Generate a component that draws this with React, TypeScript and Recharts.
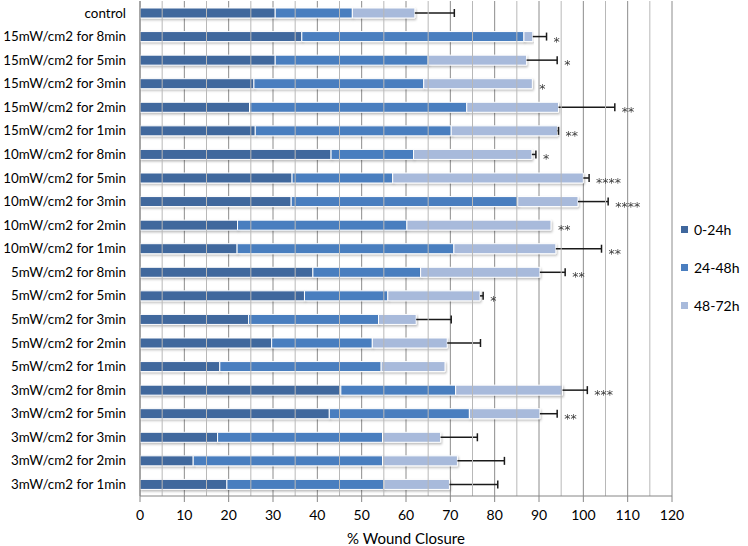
import React from 'react';
import { BarChart, Bar, XAxis, YAxis, CartesianGrid, ReferenceLine, Legend, LabelList } from 'recharts';

const categories = [
  'control',
  '15mW/cm2 for 8min',
  '15mW/cm2 for 5min',
  '15mW/cm2 for 3min',
  '15mW/cm2 for 2min',
  '15mW/cm2 for 1min',
  '10mW/cm2 for 8min',
  '10mW/cm2 for 5min',
  '10mW/cm2 for 3min',
  '10mW/cm2 for 2min',
  '10mW/cm2 for 1min',
  '5mW/cm2 for 8min',
  '5mW/cm2 for 5min',
  '5mW/cm2 for 3min',
  '5mW/cm2 for 2min',
  '5mW/cm2 for 1min',
  '3mW/cm2 for 8min',
  '3mW/cm2 for 5min',
  '3mW/cm2 for 3min',
  '3mW/cm2 for 2min',
  '3mW/cm2 for 1min',
];

const h0to24 = [30.5, 36.5, 30.5, 25.7, 24.7, 26.0, 43.1, 34.3, 34.1, 22.0, 21.9, 39.0, 37.1, 24.5, 29.7, 18.0, 45.3, 42.7, 17.5, 12.0, 19.6];
const h24to48 = [17.4, 50.1, 34.5, 38.3, 49.0, 44.2, 18.6, 22.7, 51.1, 38.2, 48.9, 24.3, 18.8, 29.3, 22.7, 36.4, 25.9, 31.6, 37.2, 42.7, 35.4];
const h48to72 = [14.1, 2.0, 22.2, 24.5, 20.7, 24.0, 26.7, 43.0, 13.6, 32.5, 23.0, 26.9, 20.8, 8.5, 16.9, 14.4, 24.1, 15.9, 13.1, 16.9, 14.8];
const errPlus = [8.9, 3.1, 6.9, 0, 12.7, 0.2, 0.9, 1.3, 6.8, 0, 10.3, 5.7, 0.7, 7.9, 7.5, 0, 5.6, 3.9, 8.3, 10.6, 10.9];
const significance = ['', '*', '*', '*', '**', '**', '*', '****', '****', '**', '**', '**', '*', '', '', '', '***', '**', '', '', ''];

const seriesNames = ['0-24h', '24-48h', '48-72h'];
const majorTicks = [0, 10, 20, 30, 40, 50, 60, 70, 80, 90, 100, 110, 120];
const minorTicks = [5, 15, 25, 35, 45, 55, 65, 75, 85, 95, 105, 115];

const data = categories.map((name, i) => ({
  name,
  a: h0to24[i],
  b: h24to48[i],
  c: h48to72[i],
  err: errPlus[i],
  sig: significance[i],
}));

const COLORS = ['#3F679D', '#4A7EBF', '#A8BADB'];
const FONT = 'Lato, "Open Sans", sans-serif';

const ErrorShape = (props: any) => {
  const { x, y, width, height } = props;
  const e = props.payload?.err ?? props.err;
  if (!(e > 0)) return <g />;
  const cy = y + height / 2;
  const x2 = x + width;
  return (
    <g>
      <line x1={x} x2={x2} y1={cy} y2={cy} stroke="#1a1a1a" strokeWidth={1.5} />
      <line x1={x2} x2={x2} y1={cy - 4} y2={cy + 4} stroke="#1a1a1a" strokeWidth={1.5} />
    </g>
  );
};

const StarLabel = (props: any) => {
  const { x, y, width, height, value } = props;
  if (!value) return null;
  return (
    <g opacity={0.99}>
      <text
        x={x + width + 7}
        y={y + height / 2 + 9}
        fontSize={12.5}
        fontFamily='"DejaVu Sans", sans-serif'
        fill="#3a3a3a"
      >
        {value}
      </text>
    </g>
  );
};

const LegendContent = (props: any) => {
  const items = (props.payload || []).filter((p: any) => p.type !== 'none');
  return (
    <div style={{ fontFamily: FONT, fontSize: 14, color: '#000' }}>
      {items.map((p: any) => (
        <div key={p.value} style={{ display: 'flex', alignItems: 'center', height: 16, marginBottom: 22 }}>
          <span style={{ display: 'inline-block', width: 7, height: 7, background: p.color, marginRight: 6 }} />
          <span>{p.value}</span>
        </div>
      ))}
    </div>
  );
};

export default function App() {
  return (
    <div style={{ position: 'fixed', left: 0, top: 0, width: 748, height: 546, background: '#fff' }}>
      <BarChart
        width={748}
        height={546}
        data={data}
        layout="vertical"
        margin={{ top: 1, right: 76, bottom: 0, left: 0 }}
        barSize={10}
        barCategoryGap={0}
      >
        <defs>
          <filter id="barShadow" x="-5%" y="-50%" width="110%" height="250%">
            <feDropShadow dx="1" dy="1.5" stdDeviation="0.8" floodColor="#000" floodOpacity="0.28" />
          </filter>
        </defs>
        <CartesianGrid horizontal={false} vertical={true} stroke="#8c8c8c" strokeWidth={1} />
        {minorTicks.map((t) => (
          <ReferenceLine key={t} x={t} stroke="#b8b8b8" strokeWidth={1} ifOverflow="extendDomain" />
        ))}
        <XAxis
          type="number"
          domain={[0, 120]}
          ticks={majorTicks}
          interval={0}
          allowDataOverflow
          height={50}
          tickSize={6}
          tickMargin={8}
          tick={{ fontSize: 14, fill: '#000', fontFamily: FONT }}
          stroke="#868686"
          label={{ value: '% Wound Closure', position: 'insideBottom', offset: 2, fontSize: 15, fill: '#000', fontFamily: FONT }}
        />
        <YAxis
          type="category"
          dataKey="name"
          width={140}
          interval={0}
          tickLine={false}
          tickMargin={8}
          tick={{ fontSize: 13.4, fill: '#000', fontFamily: FONT }}
          stroke="#868686"
        />
        <Legend
          layout="horizontal"
          align="center"
          verticalAlign="middle"
          content={<LegendContent />}
          wrapperStyle={{ left: 681, top: 221, width: 67 }}
        />
        <Bar dataKey="a" name={seriesNames[0]} stackId="s" fill={COLORS[0]} stroke="#fff" strokeWidth={1} filter="url(#barShadow)" isAnimationActive={false} />
        <Bar dataKey="b" name={seriesNames[1]} stackId="s" fill={COLORS[1]} stroke="#fff" strokeWidth={1} filter="url(#barShadow)" isAnimationActive={false} />
        <Bar dataKey="c" name={seriesNames[2]} stackId="s" fill={COLORS[2]} stroke="#fff" strokeWidth={1} filter="url(#barShadow)" isAnimationActive={false} />
        <Bar dataKey="err" stackId="s" fill="none" legendType="none" shape={ErrorShape} isAnimationActive={false}>
          <LabelList dataKey="sig" content={StarLabel} />
        </Bar>
      </BarChart>
    </div>
  );
}
